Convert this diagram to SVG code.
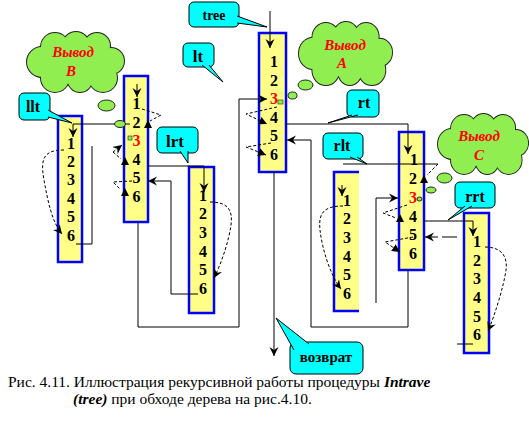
<svg xmlns="http://www.w3.org/2000/svg" xmlns:xlink="http://www.w3.org/1999/xlink" width="529" height="440" viewBox="0 0 529 440" font-family="'Liberation Serif','Times New Roman','DejaVu Serif',serif">
<style>
text{font-family:'Liberation Serif','Times New Roman','DejaVu Serif',serif}
.box{fill:#FFFF88;stroke:#0000FF;stroke-width:2.5}
.num{font-weight:bold;font-size:16px;fill:#000;text-anchor:middle}
.red{fill:#FF0000}
.call{fill:#00FFFF;stroke:#000;stroke-width:1}
.lbl{font-weight:bold;font-size:16px;fill:#000;text-anchor:middle}
.cl{font-weight:bold;font-style:italic;font-size:15px;fill:#FF0000;text-anchor:middle}
.ln{fill:none;stroke:#000;stroke-width:1}
.ds{fill:none;stroke:#000;stroke-width:1;stroke-dasharray:3 2}
.bub{fill:#90EE50;stroke:#222;stroke-width:1}
.cap{font-size:15.5px;fill:#000}
</style>
<defs>
<marker id="ah" markerUnits="userSpaceOnUse" markerWidth="10" markerHeight="10" refX="9" refY="5" orient="auto"><path d="M0,0.5 L9,5 L0,9.5 L3,5 z" fill="#000"/></marker>
<marker id="tri" markerUnits="userSpaceOnUse" markerWidth="9" markerHeight="9" refX="8" refY="4" orient="auto"><path d="M0,0 L8,4 L0,8 z" fill="#000"/></marker>
<g id="cloud">
<circle cx="16" cy="29" r="15"/><circle cx="29" cy="14" r="14"/><circle cx="50" cy="12" r="13"/><circle cx="71" cy="13" r="13"/><circle cx="85" cy="28" r="13"/><circle cx="77" cy="45" r="14"/><circle cx="54" cy="47" r="12"/><circle cx="29" cy="45" r="14"/><circle cx="45" cy="29" r="22"/><circle cx="65" cy="29" r="20"/>
</g>
</defs>
<rect width="529" height="440" fill="#FFFFFF"/>

<!-- clouds -->
<g id="cloudB">
<use xlink:href="#cloud" transform="translate(26,33)" fill="#90EE50" stroke="#222" stroke-width="2"/>
<use xlink:href="#cloud" transform="translate(26,33)" fill="#90EE50" stroke="none"/>
<text class="cl" x="73" y="57">Вывод</text>
<text class="cl" x="71" y="76">В</text>
</g>
<g id="cloudA">
<use xlink:href="#cloud" transform="translate(298,23) scale(0.96,1.05)" fill="#90EE50" stroke="#222" stroke-width="2"/>
<use xlink:href="#cloud" transform="translate(298,23) scale(0.96,1.05)" fill="#90EE50" stroke="none"/>
<text class="cl" x="345" y="50">Вывод</text>
<text class="cl" x="342" y="68">А</text>
</g>
<g id="cloudC">
<use xlink:href="#cloud" transform="translate(437,115) scale(0.93,1.0)" fill="#90EE50" stroke="#222" stroke-width="2"/>
<use xlink:href="#cloud" transform="translate(437,115) scale(0.93,1.0)" fill="#90EE50" stroke="none"/>
<text class="cl" x="479" y="141">Вывод</text>
<text class="cl" x="479" y="160">С</text>
</g>

<!-- boxes -->
<g id="llt-box">
<rect class="box" x="58" y="116" width="24" height="146"/>
<text class="num" x="71" y="149">1</text><text class="num" x="71" y="167">2</text><text class="num" x="71" y="185">3</text><text class="num" x="71" y="204">4</text><text class="num" x="71" y="222">5</text><text class="num" x="71" y="241">6</text>
</g>
<g id="lt-box">
<rect class="box" x="124" y="76" width="24" height="146"/>
<text class="num" x="136.5" y="108.5">1</text><text class="num" x="136.5" y="127.5">2</text><text class="num red" x="136.5" y="145.5">3</text><text class="num" x="136.5" y="164.5">4</text><text class="num" x="136.5" y="182.5">5</text><text class="num" x="136.5" y="201.5">6</text>
</g>
<g id="lrt-box">
<rect class="box" x="189" y="167" width="25" height="146"/>
<text class="num" x="203" y="200.5">1</text><text class="num" x="203" y="219">2</text><text class="num" x="203" y="237.5">3</text><text class="num" x="203" y="256.5">4</text><text class="num" x="203" y="274.5">5</text><text class="num" x="203" y="293.5">6</text>
</g>
<g id="tree-box">
<rect class="box" x="259" y="33" width="27" height="139"/>
<text class="num" x="274" y="66.5">1</text><text class="num" x="274" y="85.5">2</text><text class="num red" x="274" y="103.5">3</text><text class="num" x="274" y="122.5">4</text><text class="num" x="274" y="140.5">5</text><text class="num" x="274" y="159.5">6</text>
</g>
<g id="rt-box">
<rect class="box" x="399" y="132" width="25" height="138"/>
<text class="num" x="414" y="164.5">1</text><text class="num" x="413" y="183.5">2</text><text class="num red" x="413" y="202.5">3</text><text class="num" x="413" y="221.5">4</text><text class="num" x="413" y="239.5">5</text><text class="num" x="413" y="258.5">6</text>
</g>
<g id="rlt-box">
<rect x="334" y="172" width="25" height="139" fill="#FFFF88"/>
<polyline points="359,172 334,172 334,311 359,311" fill="none" stroke="#0000FF" stroke-width="2.5"/>
<text class="num" x="347" y="205.5">1</text><text class="num" x="347" y="224">2</text><text class="num" x="347" y="242.5">3</text><text class="num" x="347" y="261.5">4</text><text class="num" x="347" y="279.5">5</text><text class="num" x="347" y="298.5">6</text>
</g>
<g id="rrt-box">
<rect class="box" x="464" y="213" width="25" height="140"/>
<text class="num" x="477" y="246.5">1</text><text class="num" x="477" y="265.5">2</text><text class="num" x="477" y="283.5">3</text><text class="num" x="477" y="302.5">4</text><text class="num" x="477" y="321.5">5</text><text class="num" x="477" y="339.5">6</text>
</g>

<!-- connectors -->
<g id="connectors">
<polyline class="ln" points="130,124 73,124 73,137" marker-end="url(#ah)"/>
<polyline class="ln" points="76,244 92,244 92,146"/>
<line class="ln" x1="137" y1="84" x2="137" y2="97" marker-end="url(#ah)"/>
<polyline class="ln" points="148,166 204,166 204,192" marker-end="url(#ah)"/>
<polyline class="ln" points="198,294 171,294 171,181 148,181" marker-end="url(#ah)"/>
<polyline class="ln" points="138,222 138,327 239,327 239,99 267,99" marker-end="url(#ah)"/>
<line class="ln" x1="270" y1="11" x2="270" y2="48" marker-end="url(#ah)"/>
<polyline class="ln" points="286,124 408,124 408,154" marker-end="url(#ah)"/>
<polyline class="ln" points="408,270 408,327 311,327 311,140 287,140" marker-end="url(#ah)"/>
<line class="ln" x1="274" y1="172" x2="274" y2="356" marker-end="url(#ah)"/>
<line class="ln" x1="343" y1="164" x2="438" y2="164"/>
<line class="ln" x1="342" y1="185" x2="342" y2="196" marker-end="url(#ah)"/>
<polyline class="ln" points="376,303 376,198 398,198" marker-end="url(#ah)"/>
<polyline class="ln" points="424,221 473,221 473,236" marker-end="url(#ah)"/>
<line class="ln" x1="438" y1="237" x2="425" y2="237" marker-end="url(#ah)"/>
<line class="ln" x1="442" y1="237" x2="457" y2="237"/>
<line class="ln" x1="457" y1="344" x2="473" y2="344"/>

<path class="ds" d="M64,150 C44,150 40,158 44,180 S52,222 62,234" marker-end="url(#ah)"/>
<path class="ds" d="M210,202 C228,202 233,210 231,225 S222,262 214,278" marker-end="url(#ah)"/>
<path class="ds" d="M343,206 C325,206 318,212 320,230 S330,275 341,289" marker-end="url(#ah)"/>
<path class="ds" d="M485,247 C500,247 508,255 506,270 S495,315 488,331" marker-end="url(#ah)"/>

<path class="ds" d="M142,109 L161,115 L150,121"/>
<polygon points="148,120 144,128 152,128" fill="#000"/>
<path class="ds" d="M113,152 L122,145" marker-end="url(#ah)"/>
<path class="ds" d="M113,152 L121,159"/>
<polygon points="125,157 121,165 129,165" fill="#000"/>
<path class="ds" d="M132,181 L113,182 L120,189"/>
<polygon points="125,188 121,196 129,196" fill="#000"/>

<path class="ds" d="M277,107 L246,114 L267,124" marker-end="url(#tri)"/>
<path class="ds" d="M271,143 L246,147 L266,155" marker-end="url(#tri)"/>

<path class="ds" d="M438,164 L427,175"/>
<polygon points="424,175 420,183 428,183" fill="#000"/>
<path class="ds" d="M407,205 L383,213 L396,218"/>
<polygon points="400,214 396,222 404,222" fill="#000"/>
<path class="ds" d="M413,237 L385,242 L400,252" marker-end="url(#tri)"/>
</g>

<!-- thought bubbles -->
<g id="bubbles">
<ellipse class="bub" cx="106.5" cy="105.5" rx="8.5" ry="5.5"/>
<ellipse class="bub" cx="120" cy="124" rx="5.5" ry="3.5"/>
<rect x="128" y="136" width="4" height="4" fill="#90EE50" stroke="#222" stroke-width="0.6"/>
<ellipse class="bub" cx="305.5" cy="85" rx="7.5" ry="5"/>
<ellipse class="bub" cx="292.5" cy="95.5" rx="4.5" ry="3.5"/>
<rect x="278" y="100" width="5" height="4" fill="#90EE50" stroke="#222" stroke-width="0.6"/>
<ellipse class="bub" cx="444.5" cy="178" rx="7.5" ry="5"/>
<ellipse class="bub" cx="431" cy="190" rx="5" ry="3"/>
<ellipse class="bub" cx="419.5" cy="199" rx="2.5" ry="2" />
</g>

<!-- callouts -->
<g id="tree-label">
<rect class="call" x="189" y="2" width="50" height="25" rx="5"/>
<path class="call" d="M237,16 L267,27 L237,23"/>
<text class="lbl" x="214" y="20" style="font-size:14px">tree</text>
</g>
<g id="lt-label">
<rect class="call" x="183" y="43" width="31" height="24" rx="5"/>
<path class="call" d="M202,65 L223,82 L209,65"/>
<text class="lbl" x="198" y="62" style="font-size:17px">lt</text>
</g>
<g id="llt-label">
<rect class="call" x="19" y="93" width="31" height="27" rx="5"/>
<path class="call" d="M48,110 L72,123 L48,117"/>
<text class="lbl" x="33" y="112" style="font-size:16px">llt</text>
</g>
<g id="lrt-label">
<rect class="call" x="157" y="127" width="41" height="26" rx="5"/>
<path class="call" d="M180,151 L188,163 L188,151"/>
<text class="lbl" x="175" y="147" style="font-size:17px">lrt</text>
</g>
<g id="rt-label">
<rect class="call" x="347" y="90" width="32" height="27" rx="5"/>
<path class="call" d="M352,115 L328,123 L358,115"/>
<text class="lbl" x="364" y="108">rt</text>
</g>
<g id="rlt-label">
<rect class="call" x="323" y="133" width="40" height="26" rx="5"/>
<path class="call" d="M350,157 L367,164 L357,157"/>
<text class="lbl" x="342" y="151">rlt</text>
</g>
<g id="rrt-label">
<rect class="call" x="455" y="182" width="40" height="26" rx="5"/>
<path class="call" d="M465,206 L448,220 L472,206"/>
<text class="lbl" x="475" y="202">rrt</text>
</g>
<g id="vozvrat-label">
<rect class="call" x="290" y="342" width="73" height="32" rx="6"/>
<path class="call" d="M294,350 L276,318 L309,344"/>
<text class="lbl" x="326" y="362" style="font-size:15px">возврат</text>
</g>

<!-- caption -->
<text class="cap" x="8" y="387">Рис. 4.11. Иллюстрация рекурсивной работы процедуры <tspan font-weight="bold" font-style="italic">Intrave</tspan></text>
<text class="cap" x="73" y="404"><tspan font-weight="bold" font-style="italic">(tree)</tspan> при обходе дерева на рис.4.10.</text>
</svg>
